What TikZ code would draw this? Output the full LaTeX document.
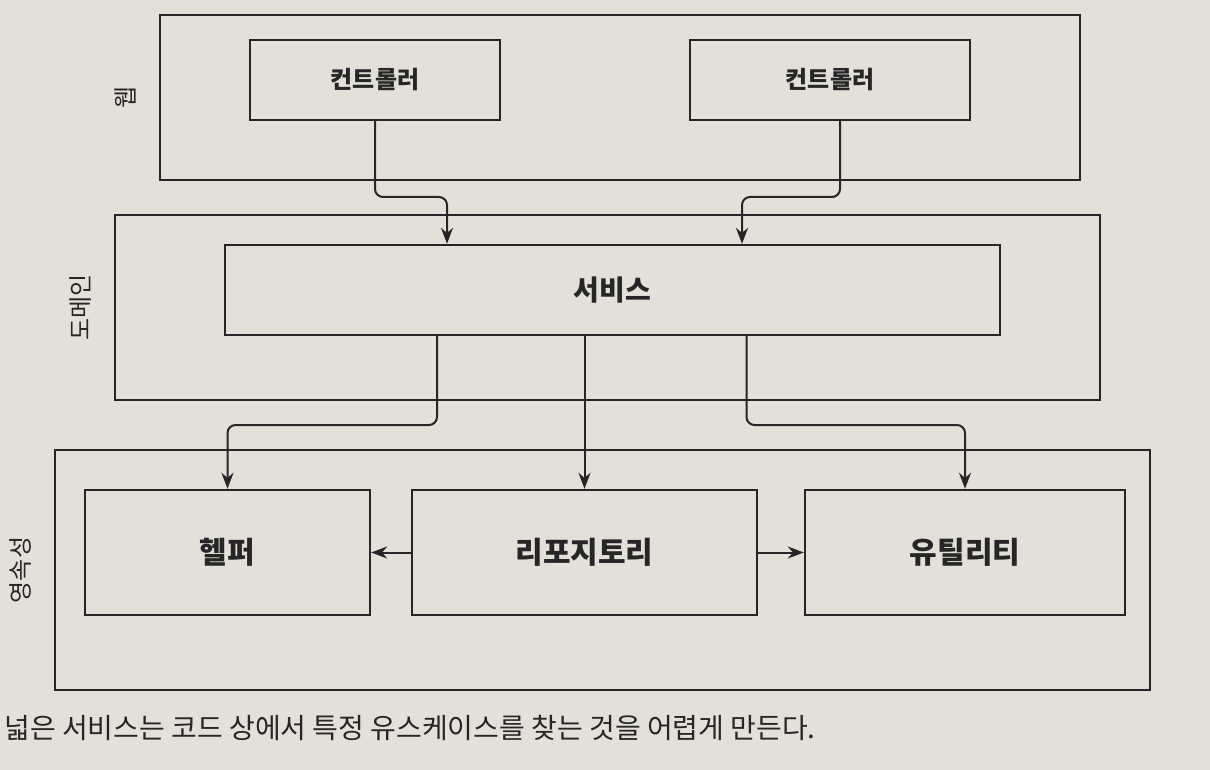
\documentclass[tikz,border=0pt]{standalone}
\usepackage{fontspec}
\newfontfamily\kr{Noto Sans CJK KR}
\usetikzlibrary{arrows.meta,positioning}
\definecolor{paper}{RGB}{226,224,216}
\definecolor{ink}{RGB}{38,38,38}

\begin{document}
\begin{tikzpicture}[
    x=0.5pt, y=-0.5pt,
    font=\kr,
    layer/.style={draw=ink, line width=1.1pt, inner sep=0pt},
    part/.style={draw=ink, fill=paper, line width=1.2pt, inner sep=0pt, text=ink},
    tag/.style={rotate=90, anchor=south, inner sep=0pt, text=ink, font=\kr\fontsize{12}{12}\selectfont},
    flow/.style={draw=ink, line width=1pt, rounded corners=4pt, -{Stealth[length=8pt,width=6pt]}}
  ]
    % page
    \fill[paper] (0,0) rectangle (1210,770);
    \useasboundingbox (0,0) rectangle (1210,770);
    % layers
    \node[layer, minimum width=460pt, minimum height=82.5pt] (web) at (620,97.5) {};
    \node[layer, minimum width=492.5pt, minimum height=92.5pt] (domain) at (607.5,307.5) {};
    \node[layer, minimum width=547.5pt, minimum height=120pt] (persist) at (602.5,570) {};
    \node[tag] (webTag) at ([xshift=-11pt]web.west) {웹};
    \node[tag] (domainTag) at ([xshift=-11pt]domain.west) {도메인};
    \node[tag] (persistTag) at ([xshift=-11pt]persist.west) {영속성};
    % web parts
    \node[part, minimum width=125pt, minimum height=40pt, font=\kr\bfseries\fontsize{12}{12}\selectfont] (ctlLeft) at (375,80) {컨트롤러};
    \node[part, minimum width=140pt, minimum height=40pt, font=\kr\bfseries\fontsize{12}{12}\selectfont] (ctlRight) at (830,80) {컨트롤러};
    % domain part
    \node[part, minimum width=387.5pt, minimum height=45pt, font=\kr\bfseries\fontsize{14}{14}\selectfont] (service) at (612.5,290) {서비스};
    % persistence parts
    \node[part, minimum width=142.5pt, minimum height=62.5pt, font=\kr\bfseries\fontsize{15}{15}\selectfont] (helper) at (227.5,552.5) {헬퍼};
    \node[part, minimum width=172.5pt, minimum height=62.5pt, font=\kr\bfseries\fontsize{15}{15}\selectfont] (repo) at (584.5,552.5) {리포지토리};
    \node[part, minimum width=160pt, minimum height=62.5pt, font=\kr\bfseries\fontsize{15}{15}\selectfont] (utility) at (965,552.5) {유틸리티};
    % rows where the connectors bend
    \coordinate (upperGap) at (0,197);
    \coordinate (lowerGap) at (0,425);
    % calls
    \draw[flow] (ctlLeft.south) -- (ctlLeft.south |- upperGap) -| ([xshift=-82.75pt]service.north);
    \draw[flow] ([xshift=5pt]ctlRight.south) -- ([xshift=5pt]ctlRight.south |- upperGap) -| ([xshift=64.75pt]service.north);
    \draw[flow] ([xshift=-87.75pt]service.south) -- ([xshift=-87.75pt]service.south |- lowerGap) -| (helper.north);
    \draw[flow] (repo.north |- service.south) -- (repo.north);
    \draw[flow] ([xshift=67pt]service.south) -- ([xshift=67pt]service.south |- lowerGap) -| (utility.north);
    \draw[flow] (repo.west) -- (repo.west -| helper.east);
    \draw[flow] (repo.east) -- (repo.east -| utility.west);
    % caption
    \node[anchor=west, inner sep=0pt, text=ink, font=\kr\fontsize{14}{14}\selectfont] (caption) at (4,728) {넓은 서비스는 코드 상에서 특정 유스케이스를 찾는 것을 어렵게 만든다.};
  \end{tikzpicture}
\end{document}
